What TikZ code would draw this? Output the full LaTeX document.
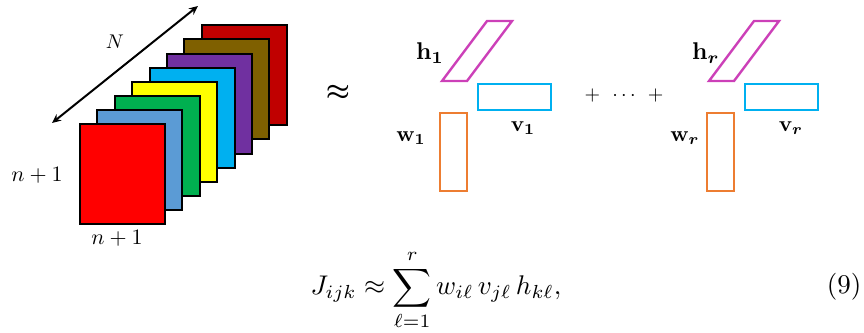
\documentclass[tikz,border=0pt]{standalone}
\usepackage{amsmath,bm}
\usetikzlibrary{arrows.meta}
\definecolor{c0}{RGB}{255,0,0}
\definecolor{c1}{RGB}{91,155,213}
\definecolor{c2}{RGB}{0,176,80}
\definecolor{c3}{RGB}{255,255,0}
\definecolor{c4}{RGB}{0,176,240}
\definecolor{c5}{RGB}{112,48,160}
\definecolor{c6}{RGB}{127,96,0}
\definecolor{c7}{RGB}{192,0,0}
\definecolor{magv}{RGB}{204,64,184}
\definecolor{cyav}{RGB}{0,176,240}
\definecolor{orav}{RGB}{237,125,49}
\begin{document}
\begin{tikzpicture}[x=1pt,y=-1pt,
  slice/.style={draw=black,line width=2pt},
  vec/.style={line width=2.4pt},
  lbl/.style={inner sep=0pt,scale=2.2},
  eq/.style={inner sep=0pt,scale=2.7}]
\useasboundingbox (0,0) rectangle (864,332);
% slices of the tensor, back to front
\foreach \k/\c in {7/c7,6/c6,5/c5,4/c4,3/c3,2/c2,1/c1,0/c0}{
  \fill[\c,slice] ({80+17.4*\k},{124-14.1*\k}) rectangle ++(85,100);
}
% N arrow
\coordinate (aL) at (52,123);
\coordinate (aR) at (198,6);
\draw[line width=2pt,{Stealth[length=9pt,width=8pt]}-{Stealth[length=9pt,width=8pt]}] (aL) -- (aR);
\node[lbl,scale=0.9] (N) at (115,42) {$N$};
\node[lbl] (nl) at (37,175) {$n+1$};
\node[lbl] (nb) at (117,238) {$n+1$};
% approx
\node[eq] (ap) at (338,93) {$\boldsymbol{\approx}$};
% first rank-one term
\draw[vec,magv] (442,81) -- (467,81) -- (512,21) -- (487,21) -- cycle;
\draw[vec,cyav] (478,84) rectangle (551,110);
\draw[vec,orav] (440,113) rectangle (467,191);
\node[lbl,scale=1.1] (h1) at (430,53) {$\mathbf{h}_{\mathbf{1}}$};
\node[lbl] (w1) at (411,138) {$\mathbf{w}_{\mathbf{1}}$};
\node[lbl] (v1) at (523,128) {$\mathbf{v}_{\mathbf{1}}$};
\node[inner sep=0pt,scale=2.0] (dots) at (624,95) {$+\mkern8mu\cdots\mkern8mu+$};
% r-th term
\begin{scope}[xshift=267pt]
\draw[vec,magv] (442,81) -- (467,81) -- (512,21) -- (487,21) -- cycle;
\draw[vec,cyav] (478,84) rectangle (551,110);
\draw[vec,orav] (440,113) rectangle (467,191);
\end{scope}
\node[lbl,scale=1.1] (hr) at (706,53) {$\mathbf{h}_{\bm{r}}$};
\node[lbl] (wr) at (685,138) {$\mathbf{w}_{\bm{r}}$};
\node[lbl] (vr) at (791,128) {$\mathbf{v}_{\bm{r}}$};
% equation
\node[eq] (eqn) at (436,290) {$\displaystyle J_{ijk}\approx\sum_{\ell=1}^{r} w_{i\ell}\,v_{j\ell}\,h_{k\ell},$};
\node[eq] (num) at (844,287) {(9)};
\end{tikzpicture}
\end{document}
